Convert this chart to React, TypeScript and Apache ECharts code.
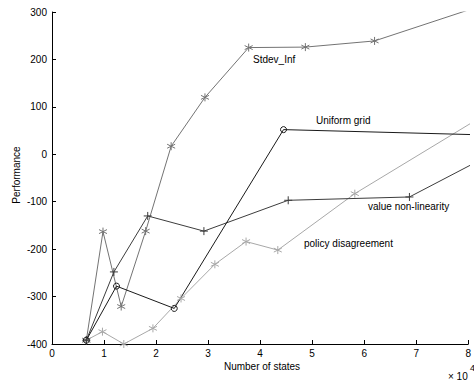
import React, { useEffect, useRef } from "react";
import * as echarts from "echarts";

const xStdev = [0.66, 0.98, 1.33, 1.8, 2.29, 2.94, 3.78, 4.87, 6.2, 7.97];
const yStdev = [-392, -163, -321, -162, 17, 120, 225, 226, 239, 303];

const xUniform = [0.66, 1.24, 2.35, 4.45, 8.6];
const yUniform = [-392, -278, -325, 52, 40];

const xValueNL = [0.66, 1.19, 1.84, 2.92, 4.54, 6.87, 8.6];
const yValueNL = [-392, -248, -130, -162, -97, -90, 9];

const xPolicy = [0.66, 0.97, 1.38, 1.94, 2.48, 3.13, 3.73, 4.34, 5.82, 8.6];
const yPolicy = [-392, -374, -400, -367, -304, -232, -184, -202, -83, 102];

const xTicks = [0, 1, 2, 3, 4, 5, 6, 7, 8];
const yTicks = [-400, -300, -200, -100, 0, 100, 200, 300];

const seriesNames = ["Stdev_Inf", "Uniform grid", "value non-linearity", "policy disagreement"];

const FONT = "Liberation Sans, Arial, sans-serif";
const STAR = "path://M0,-5L0,5M-4.33,-2.5L4.33,2.5M-4.33,2.5L4.33,-2.5";
const PLUS = "path://M0,-5L0,5M-5,0L5,0";

function zip(xs: number[], ys: number[]) {
  return xs.map((x, i) => [x, ys[i]]);
}

export default function App() {
  const ref = useRef<HTMLDivElement>(null);
  useEffect(() => {
    document.body.style.margin = "0";
    const chart = echarts.init(ref.current!, null, { renderer: "svg" });
    const mk = (
      name: string,
      xs: number[],
      ys: number[],
      color: string,
      symbol: string,
      size: number,
      fill?: string
    ) => ({
      name,
      type: "line",
      data: zip(xs, ys),
      symbol,
      symbolSize: size,
      showAllSymbol: true,
      clip: true,
      lineStyle: { color, width: 1 },
      itemStyle: {
        color: fill || color,
        borderColor: color,
        borderWidth: 1,
      },
      emphasis: { disabled: true },
      z: 2,
    });
    chart.setOption({
      animation: false,
      backgroundColor: "#fff",
      grid: { left: 52, top: 12, right: 3, bottom: 41, containLabel: false },
      xAxis: {
        type: "value",
        min: xTicks[0],
        max: xTicks[xTicks.length - 1],
        interval: 1,
        axisLine: { show: true, onZero: false, lineStyle: { color: "#000", width: 1 } },
        axisTick: { show: true, inside: true, length: 4, lineStyle: { color: "#000" } },
        axisLabel: { color: "#000", fontSize: 10, fontFamily: FONT, margin: 4 },
        splitLine: { show: false },
      },
      yAxis: {
        type: "value",
        min: yTicks[0],
        max: yTicks[yTicks.length - 1],
        interval: 100,
        axisLine: { show: true, onZero: false, lineStyle: { color: "#000", width: 1 } },
        axisTick: { show: true, inside: true, length: 4, lineStyle: { color: "#000" } },
        axisLabel: { color: "#000", fontSize: 10, fontFamily: FONT, margin: 5 },
        splitLine: { show: false },
      },
      series: [
        mk(seriesNames[3], xPolicy, yPolicy, "#a8a8a8", STAR, 8),
        mk(seriesNames[0], xStdev, yStdev, "#737373", STAR, 8),
        mk(seriesNames[2], xValueNL, yValueNL, "#3c3c3c", PLUS, 8),
        mk(seriesNames[1], xUniform, yUniform, "#1a1a1a", "circle", 6, "rgba(255,255,255,0)"),
      ],
      graphic: [
        {
          type: "text",
          left: 253,
          top: 54,
          style: { text: seriesNames[0], font: `10px ${FONT}`, fill: "#000" },
        },
        {
          type: "text",
          left: 316,
          top: 115,
          style: { text: seriesNames[1], font: `10px ${FONT}`, fill: "#000" },
        },
        {
          type: "text",
          left: 368,
          top: 201,
          style: { text: seriesNames[2], font: `10px ${FONT}`, fill: "#000" },
        },
        {
          type: "text",
          left: 304,
          top: 238,
          style: { text: seriesNames[3], font: `10px ${FONT}`, fill: "#000" },
        },
        {
          type: "text",
          x: 262,
          y: 366,
          style: {
            text: "Number of states",
            font: `10px ${FONT}`,
            fill: "#000",
            align: "center",
            verticalAlign: "middle",
          },
        },
        {
          type: "text",
          x: 16,
          y: 175,
          rotation: Math.PI / 2,
          style: {
            text: "Performance",
            font: `10px ${FONT}`,
            fill: "#000",
            align: "center",
            verticalAlign: "middle",
          },
        },
        {
          type: "text",
          x: 448,
          y: 376,
          style: {
            text: "× 10",
            font: `10px ${FONT}`,
            fill: "#000",
            verticalAlign: "middle",
          },
        },
        {
          type: "text",
          x: 470,
          y: 368,
          style: {
            text: "4",
            font: `9px ${FONT}`,
            fill: "#000",
            verticalAlign: "middle",
          },
        },
      ],
    });
    return () => chart.dispose();
  }, []);
  return <div ref={ref} style={{ width: 474, height: 385 }} />;
}
